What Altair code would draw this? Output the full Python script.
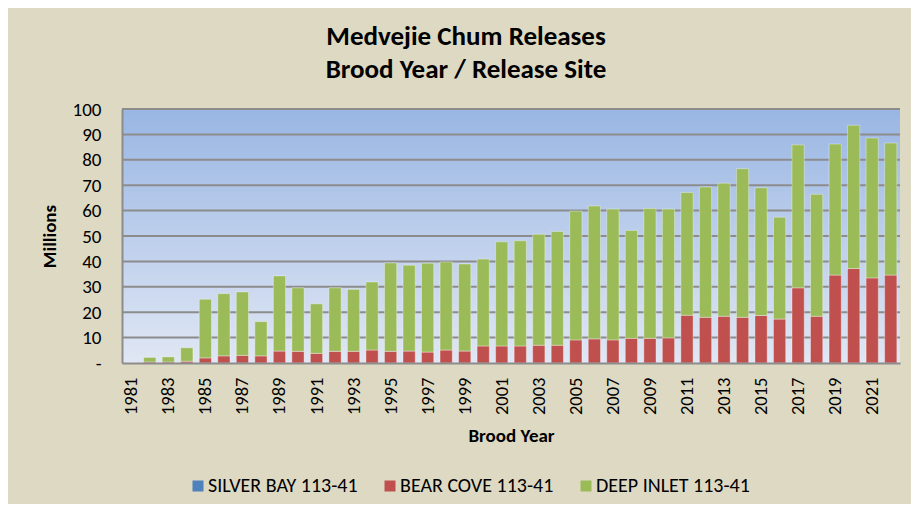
import altair as alt
import pandas as pd

years = list(range(1981, 2023))
silver_bay = [0.0] * 42
bear_cove = [0.2, 0.4, 0.4, 0.7, 2.0, 2.8, 3.0, 2.8, 4.7, 4.6,
             3.8, 4.6, 4.6, 5.1, 4.6, 4.7, 4.3, 5.1, 4.7, 6.7,
             6.7, 6.7, 7.0, 7.0, 9.1, 9.5, 9.1, 9.7, 9.7, 9.9,
             18.8, 18.0, 18.4, 18.0, 18.7, 17.3, 29.6, 18.4, 34.6, 37.2,
             33.5, 34.6]
totals = [0.2, 2.2, 2.4, 6.0, 25.1, 27.3, 28.0, 16.3, 34.3, 29.6,
          23.3, 29.6, 29.0, 31.9, 39.4, 38.5, 39.3, 39.8, 39.0, 40.9,
          47.7, 48.1, 50.7, 51.8, 59.8, 61.8, 60.6, 52.2, 60.8, 60.6,
          67.1, 69.3, 70.8, 76.5, 69.0, 57.4, 85.9, 66.4, 86.2, 93.6,
          88.6, 86.6]
deep_inlet = [round(t - b - s, 2) for t, b, s in zip(totals, bear_cove, silver_bay)]

sites = ["SILVER BAY 113-41", "BEAR COVE 113-41", "DEEP INLET 113-41"]
site_colors = ["#4F81BD", "#C0504D", "#9BBB59"]
y_ticks = list(range(0, 101, 10))

rows = []
for i, y in enumerate(years):
    for k, (name, vals) in enumerate(zip(sites, [silver_bay, bear_cove, deep_inlet])):
        rows.append({"year": str(y), "site": name, "order": k, "value": vals[i]})
df = pd.DataFrame(rows)

FONT = "Carlito, 'Liberation Sans Narrow', 'Open Sans', sans-serif"

y_scale = alt.Scale(domain=[0, 100], nice=False)
y_axis = alt.Axis(title="Millions", values=y_ticks, grid=False, zindex=1,
                  labelExpr="datum.value == 0 ? '-' : datum.label",
                  labelFontSize=19, labelColor="#000000", ticks=False, labelPadding=21,
                  titleFontSize=19, titleFontWeight="bold", titlePadding=13,
                  domainColor="#8C8C8C", domainWidth=2)

bg = alt.Chart(pd.DataFrame({"lo": [0], "hi": [100]})).mark_rect(
    color=alt.LinearGradient(gradient="linear", x1=0, x2=0, y1=0, y2=1,
                             stops=[alt.GradientStop(color="#99B6E3", offset=0),
                                    alt.GradientStop(color="#E0E7F4", offset=1)])
).encode(
    x=alt.value(0), x2=alt.value("width"),
    y=alt.Y("lo:Q", scale=y_scale, axis=y_axis), y2="hi:Q",
)

grid = alt.Chart(pd.DataFrame({"value": y_ticks[1:]})).mark_rule(
    color="#8C8C8C", strokeWidth=2
).encode(
    x=alt.value(0), x2=alt.value("width"),
    y=alt.Y("value:Q", scale=y_scale, axis=y_axis),
)

bars = alt.Chart(df).mark_bar(stroke="#ffffff", strokeOpacity=0.35, strokeWidth=1).encode(
    x=alt.X("year:N", sort=[str(y) for y in years],
            scale=alt.Scale(paddingInner=0.34, paddingOuter=0.17),
            axis=alt.Axis(title="Brood Year", values=[str(y) for y in years if y % 2 == 1],
                          labelAngle=-90, labelFontSize=18.5, labelColor="#000000", zindex=1,
                          ticks=False, labelPadding=14, titleFontSize=19, titleFontWeight="bold",
                          titlePadding=12, domainColor="#8C8C8C", domainWidth=2)),
    y=alt.Y("value:Q", stack="zero", scale=y_scale, axis=y_axis),
    color=alt.Color("site:N", scale=alt.Scale(domain=sites, range=site_colors),
                    legend=alt.Legend(title=None, orient="none", direction="horizontal",
                                      legendX=66, legendY=367, symbolType="square",
                                      symbolSize=121, symbolStrokeWidth=0, labelFontSize=20,
                                      labelOffset=0, labelLimit=300,
                                      labelColor="#000000", columnPadding=22,
                                      gridAlign="none")),
    order=alt.Order("order:Q"),
)

chart = alt.layer(bg, grid, bars).properties(
    width=778, height=254,
    title=alt.Title(["Medvejie Chum Releases", "Brood Year / Release Site"],
                    fontSize=27, fontWeight="bold", color="#000000", offset=16,
                    dx=-45, lineHeight=33, anchor="middle"),
    autosize=alt.AutoSizeParams(type="none"),
    padding={"left": 114, "top": 101, "right": 11, "bottom": 141},
).configure(
    background="#DDD9C3", font=FONT,
).configure_view(
    stroke=None,
)

chart.save("out.html", embed_options={"renderer": "svg", "actions": False})
